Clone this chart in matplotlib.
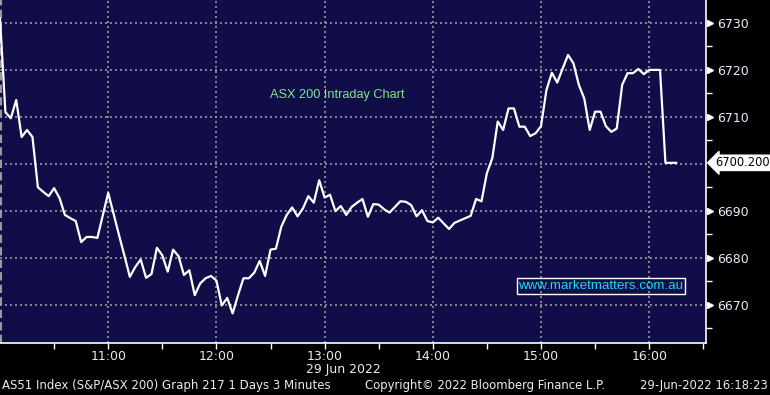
import matplotlib.pyplot as plt
from matplotlib.transforms import blended_transform_factory
import numpy as np

# 3-minute bars from 10:00
bar_minutes = 3
prices = [
    6731.0, 6711.0, 6709.7, 6713.6, 6705.7, 6707.2, 6705.7, 6695.0, 6694.0, 6693.1,
    6694.8, 6692.7, 6689.1, 6688.4, 6687.8, 6683.3, 6684.4, 6684.4, 6684.2, 6689.0,
    6693.8, 6689.3, 6684.8, 6680.4, 6675.9, 6678.0, 6679.6, 6675.7, 6676.5, 6682.1,
    6680.5, 6677.0, 6681.7, 6680.3, 6676.3, 6677.3, 6672.0, 6674.5, 6675.6, 6676.1,
    6675.1, 6669.8, 6671.4, 6668.1, 6672.0, 6675.6, 6675.6, 6676.8, 6679.3, 6676.1,
    6681.7, 6681.9, 6686.6, 6689.1, 6690.7, 6688.8, 6690.5, 6693.1, 6691.7, 6696.5,
    6692.8, 6693.4, 6689.9, 6691.0, 6689.1, 6690.8, 6691.7, 6692.5, 6688.7, 6691.4,
    6691.3, 6690.3, 6689.6, 6690.8, 6692.0, 6691.9, 6691.2, 6688.8, 6690.1, 6687.8,
    6687.5, 6688.5, 6687.3, 6686.1, 6687.4, 6687.9, 6688.4, 6688.9, 6692.5, 6692.0,
    6698.0, 6701.2, 6709.0, 6707.2, 6711.8, 6711.8, 6707.9, 6707.9, 6705.9, 6706.5,
    6708.0, 6715.7, 6719.4, 6717.3, 6720.3, 6723.2, 6721.4, 6716.8, 6713.9, 6707.2,
    6711.1, 6711.1, 6708.0, 6706.8, 6707.5, 6716.8, 6719.3, 6719.3, 6720.2, 6719.1,
    6720.0, 6720.0, 6720.0, 6700.2, 6700.2, 6700.2,
]
last_price = 6700.2

hour_ticks = [60, 120, 180, 240, 300, 360]
hour_labels = ["11:00", "12:00", "13:00", "14:00", "15:00", "16:00"]
y_ticks = [6670, 6680, 6690, 6700, 6710, 6720, 6730]
# the 6700 label sits under the last-price tag
y_labels = ["6670", "6680", "6690", "", "6710", "6720", "6730"]

navy = "#100d48"
grid_col = "#9a9a9a"
tick_col = "#e6ecf6"
foot_col = "#f2ece0"

fig = plt.figure(figsize=(7.7, 3.95), dpi=100, facecolor="black")
ax = fig.add_axes([0.0, 0.1316, 0.9169, 0.8684])
ax.set_facecolor(navy)

x = np.arange(len(prices)) * bar_minutes
ax.plot(x, prices, color="white", lw=1.6, zorder=3)

ax.set_xlim(0, 391.5)
ax.set_ylim(6661.8, 6734.9)

# grid
for t in hour_ticks:
    ax.axvline(t, color=grid_col, lw=1.2, ls=(0, (1.2, 1.8)), zorder=1)
for v in y_ticks:
    ax.axhline(v, color=grid_col, lw=1.2, ls=(0, (1.2, 1.8)), zorder=1)
ax.axvline(0.4, color=grid_col, lw=1.5, ls=(0, (4, 2)), zorder=1)

for s in ["top", "left"]:
    ax.spines[s].set_visible(False)
for s in ["bottom", "right"]:
    ax.spines[s].set_color("white")
    ax.spines[s].set_linewidth(1.2)

# x axis
ax.set_xticks(hour_ticks)
ax.set_xticklabels(hour_labels)
ax.set_xticks([30, 90, 150, 210, 270, 330, 390], minor=True)
ax.tick_params(axis="x", which="both", colors="white", labelcolor=tick_col,
               length=4, width=1, labelsize=9, pad=1)

# y axis on right
ax.yaxis.tick_right()
ax.set_yticks(y_ticks)
ax.set_yticklabels(y_labels)
ax.set_yticks([6665, 6675, 6685, 6695, 6705, 6715, 6725], minor=True)
ax.tick_params(axis="y", which="major", length=0, pad=8, colors="white",
               labelcolor=tick_col, labelsize=9)
ax.tick_params(axis="y", which="minor", length=4, width=1, colors="white")

trans = blended_transform_factory(ax.transAxes, ax.transData)
arrow_ticks = [v for v, lab in zip(y_ticks, y_labels) if lab]
ax.plot([1.006] * len(arrow_ticks), arrow_ticks, ls="none", marker=">", ms=4,
        color="white", transform=trans, clip_on=False)

# last price tag
ax.text(1.0135, last_price, "6700.200", transform=trans, ha="left", va="center",
        fontsize=8.3, color="black", zorder=5,
        bbox=dict(boxstyle="larrow,pad=0.1", fc="white", ec="white"))

# annotations
ax.text(270 / 706, 1 - 95 / 343, "ASX 200 Intraday Chart", transform=ax.transAxes,
        ha="left", va="center", fontsize=9.2, color="#78e68c",
        family="Liberation Sans")
ax.text(601 / 706, 1 - 286 / 343, "www.marketmatters.com.au", transform=ax.transAxes,
        ha="center", va="center", fontsize=9.6, color="#19d9e8",
        family="Liberation Sans",
        bbox=dict(boxstyle="square,pad=0.12", fc="none", ec="white", lw=1))

# footer
fig.text(343 / 770, 1 - 370 / 395, "29 Jun 2022", ha="center", va="center",
         fontsize=9, color=tick_col)
fig.text(2 / 770, 1 - 386 / 395, "AS51 Index (S&P/ASX 200) Graph 217 1 Days 3 Minutes",
         ha="left", va="center", fontsize=8.5, color=foot_col)
fig.text(365 / 770, 1 - 386 / 395, "Copyright\u00a9 2022 Bloomberg Finance L.P.",
         ha="left", va="center", fontsize=8.4, color=foot_col)
fig.text(768 / 770, 1 - 386 / 395, "29-Jun-2022 16:18:23",
         ha="right", va="center", fontsize=8.4, color=foot_col)

fig.savefig("out.png", dpi=100, facecolor="black")
